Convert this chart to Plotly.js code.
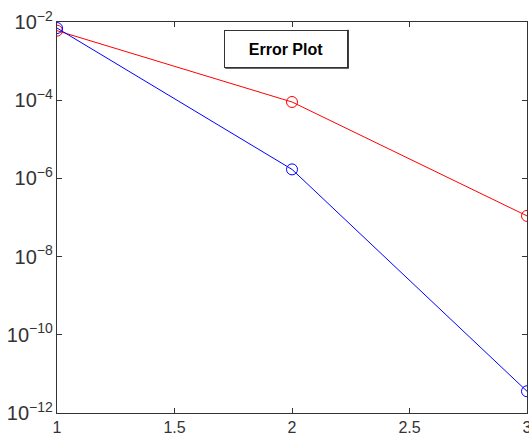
<!DOCTYPE html>
<html>
<head>
<meta charset="utf-8">
<script src="https://cdn.plot.ly/plotly-3.0.1.min.js"></script>
<style>html,body{margin:0;padding:0;background:#fff;}#chart{width:529px;height:443px;}</style>
</head>
<body>
<div id="chart"></div>
<script>
const xValues = [1, 2, 3];
const redErrors = [6e-3, 9e-5, 1.1e-7];
const blueErrors = [7e-3, 1.7e-6, 3.6e-12];
const xTicks = [1, 1.5, 2, 2.5, 3];
const xTickLabels = ['1', '1.5', '2', '2.5', '3'];
const boxLabel = 'Error Plot';

const traces = [
  {x: xValues, y: redErrors, mode: 'lines+markers', type: 'scatter',
   line: {color: '#ff0000', width: 1},
   marker: {symbol: 'circle-open', size: 11, color: '#ff0000', line: {width: 1}}},
  {x: xValues, y: blueErrors, mode: 'lines+markers', type: 'scatter',
   line: {color: '#0000ff', width: 1},
   marker: {symbol: 'circle-open', size: 11, color: '#0000ff', line: {width: 1}}}
];

const axisCommon = {
  showgrid: false, zeroline: false, showline: true, linecolor: '#333', linewidth: 1,
  mirror: 'ticks', ticks: 'inside', ticklen: 5, tickcolor: '#333',
  ticklabeloverflow: 'allow',
  tickfont: {family: 'Liberation Sans, Arial, sans-serif', size: 16, color: '#333'}
};

const layout = {
  width: 529, height: 443,
  margin: {l: 57, r: 2, t: 22, b: 30},
  paper_bgcolor: '#fff', plot_bgcolor: '#fff',
  showlegend: false,
  xaxis: Object.assign({}, axisCommon, {range: [1, 3], tickvals: xTicks, ticktext: xTickLabels}),
  yaxis: Object.assign({}, axisCommon, {type: 'log', range: [-12, -2], dtick: 2, exponentformat: 'power'}),
  shapes: [
    {type: 'line', xref: 'paper', yref: 'paper', x0: 0.619, x1: 0.619, y0: 0.883, y1: 0.98,
     line: {color: '#333', width: 2}},
    {type: 'line', xref: 'paper', yref: 'paper', x0: 0.358, x1: 0.621, y0: 0.883, y1: 0.883,
     line: {color: '#333', width: 2}}
  ],
  annotations: [{
    text: '<b>' + boxLabel + '</b>', xref: 'paper', yref: 'paper',
    x: 0.488, y: 0.932, xanchor: 'center', yanchor: 'middle', showarrow: false,
    font: {family: 'Liberation Sans, Arial, sans-serif', size: 16, color: '#000'},
    bgcolor: '#fff', bordercolor: '#333', borderwidth: 1,
    width: 120, height: 34
  }]
};

Plotly.newPlot('chart', traces, layout, {displayModeBar: false, staticPlot: true});
</script>
</body>
</html>
